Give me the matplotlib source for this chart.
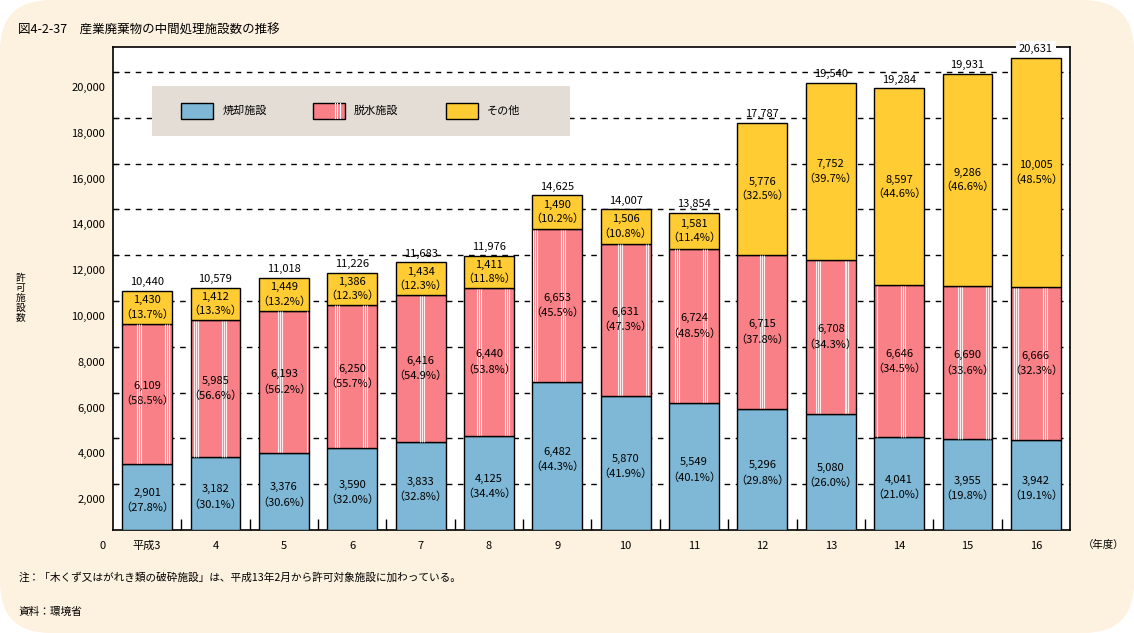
import matplotlib.pyplot as plt
import matplotlib.transforms as mtransforms
from matplotlib.patches import Rectangle, FancyBboxPatch
import numpy as np

plt.rcParams['font.family'] = ['Noto Sans CJK JP', 'DejaVu Sans']

# --- DATA ----------------------------------------------------------- #
years = ["平成3", "4", "5", "6", "7", "8", "9", "10", "11", "12", "13", "14", "15", "16"]
incin = [2901, 3182, 3376, 3590, 3833, 4125, 6482, 5870, 5549, 5296, 5080, 4041, 3955, 3942]
dewater = [6109, 5985, 6193, 6250, 6416, 6440, 6653, 6631, 6724, 6715, 6708, 6646, 6690, 6666]
other = [1430, 1412, 1449, 1386, 1434, 1411, 1490, 1506, 1581, 5776, 7752, 8597, 9286, 10005]
totals = [10440, 10579, 11018, 11226, 11683, 11976, 14625, 14007, 13854, 17787, 19540, 19284, 19931, 20631]
pct_incin = [27.8, 30.1, 30.6, 32.0, 32.8, 34.4, 44.3, 41.9, 40.1, 29.8, 26.0, 21.0, 19.8, 19.1]
pct_dewater = [58.5, 56.6, 56.2, 55.7, 54.9, 53.8, 45.5, 47.3, 48.5, 37.8, 34.3, 34.5, 33.6, 32.3]
pct_other = [13.7, 13.3, 13.2, 12.3, 12.3, 11.8, 10.2, 10.8, 11.4, 32.5, 39.7, 44.6, 46.6, 48.5]
series_names = ["焼却施設", "脱水施設", "その他"]
yticks = list(range(0, 20001, 2000))

c_blue = "#7fb8d6"
c_pink = "#fa8087"
c_yellow = "#ffcc33"
c_bg = "#fdf1df"

# --- FIGURE --------------------------------------------------------- #
fig = plt.figure(figsize=(11.34, 6.33), dpi=100)
fig.patch.set_facecolor("white")
fig.patches.append(FancyBboxPatch((0.0, 0.0), 1.0, 1.0, boxstyle="round,pad=0,rounding_size=0.045",
                                  transform=fig.transFigure, facecolor=c_bg, edgecolor="none",
                                  mutation_aspect=1134 / 633, zorder=-10))

ax = fig.add_axes([0.0996, 0.1627, 0.844, 0.763])
ax.set_facecolor("white")
x = np.arange(len(years))
w = 0.73

ax.bar(x, incin, w, color=c_blue, edgecolor="black", linewidth=1, zorder=3)
ax.bar(x, dewater, w, bottom=incin, color=c_pink, edgecolor="black", linewidth=1, zorder=3)
bot2 = np.array(incin) + np.array(dewater)
ax.bar(x, other, w, bottom=bot2, color=c_yellow, edgecolor="black", linewidth=1, zorder=3)

# white stripes on the pink segments (screen-fixed texture)
period = 0.414
start = -0.149
for i in range(len(years)):
    left, right = x[i] - w / 2, x[i] + w / 2
    k0 = int(np.floor((left - start) / period))
    for k in range(k0, k0 + 4):
        s = start + k * period
        for d in (0.0, 0.029, 0.058):
            xs = s + d
            if left + 0.01 < xs < right - 0.01:
                ax.vlines(xs, incin[i] + 20, bot2[i] - 20, color="white", linewidth=0.8,
                          alpha=0.85, zorder=4)

fs = 8
for i in range(len(years)):
    ax.text(x[i], incin[i] / 2 - 150, f"{incin[i]:,}\n（{pct_incin[i]:.1f}%）", ha="center", va="center",
            fontsize=fs, linespacing=1.55, zorder=5)
    ax.text(x[i], incin[i] + dewater[i] / 2, f"{dewater[i]:,}\n（{pct_dewater[i]:.1f}%）", ha="center",
            va="center", fontsize=fs, linespacing=1.55, zorder=5)
    ax.text(x[i], bot2[i] + other[i] / 2, f"{other[i]:,}\n（{pct_other[i]:.1f}%）", ha="center",
            va="center", fontsize=fs, linespacing=1.45, zorder=5)
    bb = dict(facecolor="white", edgecolor="none", pad=2) if i == len(years) - 1 else None
    ax.text(x[i], totals[i] + 150, f"{totals[i]:,}", ha="center", va="bottom", fontsize=fs,
            zorder=6, bbox=bb, clip_on=False)

# axes, grid, ticks
ax.set_xlim(-0.5, len(years) - 0.5)
ax.set_ylim(0, 21090)
for v in yticks[1:]:
    ax.axhline(v, color="black", linewidth=1, linestyle=(0, (4, 4)), zorder=1)
ax.set_yticks(yticks[1:])
ax.tick_params(axis="y", direction="in", length=4, labelleft=False)
ax.set_xticks(x)
ax.set_xticklabels(years, fontsize=fs)
ax.tick_params(axis="x", which="major", length=0, pad=8)
ax.set_xticks(np.arange(-0.5, len(years), 1.0)[1:-1], minor=True)
ax.tick_params(axis="x", which="minor", direction="in", length=8, width=1)
for sp in ax.spines.values():
    sp.set_linewidth(1.2)

# y tick labels sit ~16 px below their grid lines, as in the original
off = mtransforms.ScaledTranslation(0, -16 / 100, fig.dpi_scale_trans)
for v in yticks:
    ax.text(-0.008, v, f"{v:,}", transform=ax.get_yaxis_transform() + off, ha="right", va="center",
            fontsize=fs, clip_on=False)

ax.text(1.013, -0.031, "（年度）", transform=ax.transAxes, ha="left", va="center", fontsize=fs - 0.5)

# legend box
ax.add_patch(Rectangle((0.0408, 0.816), 0.4367, 0.103, transform=ax.transAxes, facecolor="#e4ddd6",
                       edgecolor="none", zorder=7))
leg_x = [0.0711, 0.2090, 0.3480]
for lx, col, name in zip(leg_x, [c_blue, c_pink, c_yellow], series_names):
    ax.add_patch(Rectangle((lx, 0.852), 0.0334, 0.033, transform=ax.transAxes, facecolor=col,
                           edgecolor="black", linewidth=1, zorder=8))
    ax.text(lx + 0.043, 0.868, name, transform=ax.transAxes, ha="left", va="center", fontsize=fs,
            zorder=9)
for d in (0.023, 0.0255, 0.028):
    ax.plot([leg_x[1] + d, leg_x[1] + d], [0.853, 0.884], transform=ax.transAxes, color="white",
            linewidth=0.8, zorder=9)

# titles and notes
fig.text(0.016, 0.953, "図4-2-37　産業廃棄物の中間処理施設数の推移", fontsize=9, ha="left", va="center")
fig.text(0.018, 0.53, "許\n可\n施\n設\n数", fontsize=7, ha="center", va="center", linespacing=1.0)
fig.text(0.016, 0.087, "注：「木くず又はがれき類の破砕施設」は、平成13年2月から許可対象施設に加わっている。",
         fontsize=7.7, ha="left", va="center")
fig.text(0.016, 0.033, "資料：環境省", fontsize=7.7, ha="left", va="center")

fig.savefig("out.png", dpi=100, facecolor=fig.get_facecolor())
